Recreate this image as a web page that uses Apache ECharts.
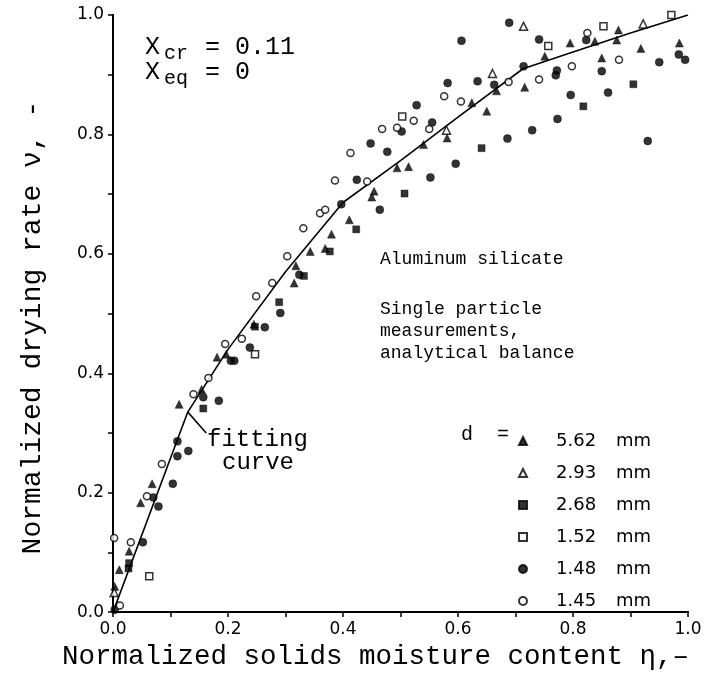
<!DOCTYPE html>
<html>
<head>
<meta charset="utf-8">
<script src="https://cdn.jsdelivr.net/npm/echarts@6/dist/echarts.min.js"></script>
<style>html,body{margin:0;padding:0;background:#fff}#c{width:720px;height:676px}</style>
</head>
<body>
<div id="c"></div>
<script>
// ---- data ----
var seriesNames = ['5.62 mm', '2.93 mm', '2.68 mm', '1.52 mm', '1.48 mm', '1.45 mm'];
var xTickLabels = ['0.0', '0.2', '0.4', '0.6', '0.8', '1.0'];
var yTickLabels = ['0.0', '0.2', '0.4', '0.6', '0.8', '1.0'];

var s562 = [[0.003,0.043],[0.011,0.071],[0.028,0.102],[0.048,0.183],[0.068,0.215],[0.115,0.348],[0.154,0.373],[0.181,0.427],[0.197,0.432],[0.245,0.482],[0.318,0.580],[0.315,0.551],[0.343,0.604],[0.369,0.609],[0.380,0.633],[0.411,0.657],[0.450,0.695],[0.454,0.705],[0.494,0.744],[0.514,0.746],[0.540,0.783],[0.581,0.794],[0.624,0.853],[0.650,0.839],[0.667,0.873],[0.716,0.879],[0.751,0.931],[0.795,0.953],[0.838,0.956],[0.850,0.928],[0.876,0.958],[0.879,0.975],[0.918,0.944],[0.985,0.953]];
var s293 = [[0.002,0.033],[0.580,0.807],[0.660,0.902],[0.714,0.981],[0.922,0.985]];
var s268 = [[0.027,0.073],[0.028,0.082],[0.157,0.341],[0.247,0.478],[0.289,0.519],[0.332,0.563],[0.377,0.604],[0.423,0.641],[0.507,0.701],[0.641,0.777],[0.818,0.847],[0.905,0.884]];
var s152 = [[0.063,0.060],[0.247,0.432],[0.503,0.830],[0.757,0.948],[0.853,0.981],[0.971,1.0]];
var s148 = [[0.003,0.004],[0.052,0.117],[0.070,0.192],[0.079,0.177],[0.104,0.215],[0.112,0.286],[0.112,0.261],[0.131,0.270],[0.157,0.360],[0.184,0.354],[0.205,0.421],[0.211,0.421],[0.238,0.443],[0.264,0.477],[0.291,0.501],[0.324,0.565],[0.397,0.683],[0.424,0.724],[0.448,0.785],[0.464,0.674],[0.477,0.771],[0.502,0.805],[0.528,0.849],[0.552,0.728],[0.555,0.820],[0.582,0.886],[0.596,0.751],[0.606,0.957],[0.634,0.889],[0.663,0.883],[0.686,0.793],[0.689,0.987],[0.714,0.914],[0.729,0.807],[0.741,0.959],[0.770,0.899],[0.772,0.907],[0.773,0.826],[0.796,0.866],[0.823,0.958],[0.850,0.906],[0.861,0.870],[0.930,0.789],[0.950,0.921],[0.984,0.934],[0.995,0.925]];
var s145 = [[0.002,0.124],[0.012,0.011],[0.031,0.117],[0.059,0.194],[0.085,0.248],[0.140,0.365],[0.166,0.392],[0.195,0.449],[0.224,0.458],[0.249,0.529],[0.277,0.551],[0.303,0.596],[0.331,0.643],[0.360,0.668],[0.369,0.674],[0.386,0.723],[0.413,0.769],[0.442,0.721],[0.468,0.809],[0.494,0.811],[0.523,0.823],[0.550,0.809],[0.576,0.864],[0.605,0.855],[0.688,0.888],[0.741,0.892],[0.798,0.914],[0.825,0.970],[0.880,0.925]];

var curveX = [0, 0.13, 0.2, 0.3, 0.4, 0.5, 0.6, 0.713, 0.8, 0.9, 1.0];
var curveY = [0, 0.335, 0.44, 0.57, 0.686, 0.756, 0.829, 0.910, 0.938, 0.970, 1.0];
var pointerX = [0.13, 0.162];
var pointerY = [0.335, 0.30];

// ---- chart ----
var chart = echarts.init(document.getElementById('c'), null, {renderer: 'canvas'});
var MONO = '"Liberation Mono", "DejaVu Sans Mono", monospace';
var SANS = '"DejaVu Sans", "Liberation Sans", sans-serif';

function zip(xs, ys) { return xs.map(function (x, i) { return [x, ys[i]]; }); }
function tickFmt(labels) {
  return function (v) {
    var k = Math.round(v * 10);
    return k % 2 === 0 ? labels[k / 2] : '';
  };
}
var axisLineStyle = {lineStyle: {color: '#000', width: 2}};
var tickLine = {color: '#000', width: 1.5};

function sc(name, data, symbol, filled, size) {
  return {
    name: name, type: 'scatter', data: data, symbol: symbol, symbolSize: size,
    itemStyle: filled ? {color: '#000', borderColor: '#000', borderWidth: 0.5}
                      : {color: '#fff', borderColor: '#000', borderWidth: 1.5},
    z: 5, silent: true
  };
}

var option = {
  backgroundColor: '#fff',
  animation: false,
  grid: {left: 113, right: 32, top: 15, bottom: 54, containLabel: false},
  xAxis: [{
    type: 'value', min: 0, max: 1, interval: 0.1, position: 'bottom',
    axisLine: axisLineStyle,
    axisTick: {show: true, inside: false, length: 5, lineStyle: tickLine},
    axisLabel: {formatter: tickFmt(xTickLabels), color: '#000', fontFamily: SANS, fontSize: 17, margin: 9},
    splitLine: {show: false},
    name: 'Normalized solids moisture content η,–',
    nameLocation: 'middle', nameGap: 23,
    nameTextStyle: {fontFamily: MONO, fontSize: 27.5, color: '#000', padding: [0, 50, 0, 0]}
  }, {
    type: 'value', min: 0, max: 1, interval: 0.1, position: 'top',
    axisLine: axisLineStyle,
    axisTick: {show: true, inside: true, length: 5, lineStyle: tickLine},
    axisLabel: {show: false}, splitLine: {show: false}
  }],
  yAxis: [{
    type: 'value', min: 0, max: 1, interval: 0.1, position: 'left',
    axisLine: axisLineStyle,
    axisTick: {show: true, inside: false, length: 5, lineStyle: tickLine},
    axisLabel: {formatter: tickFmt(yTickLabels), color: '#000', fontFamily: SANS, fontSize: 17, margin: 9},
    splitLine: {show: false},
    name: 'Normalized drying rate ν, -',
    nameLocation: 'middle', nameGap: 66, nameRotate: 90,
    nameTextStyle: {fontFamily: MONO, fontSize: 28, color: '#000', padding: [0, 28, 0, 0]}
  }, {
    type: 'value', min: 0, max: 1, interval: 0.1, position: 'right',
    axisLine: axisLineStyle,
    axisTick: {show: true, inside: true, length: 5, lineStyle: tickLine},
    axisLabel: {show: false}, splitLine: {show: false}
  }],
  legend: {
    orient: 'vertical', left: 513, top: 426,
    itemWidth: 8, itemHeight: 8, itemGap: 12,
    data: seriesNames,
    formatter: function (name) {
      var p = name.split(' ');
      return '{n|' + p[0] + '}{u|' + p[1] + '}';
    },
    textStyle: {
      fontFamily: SANS, fontSize: 18, color: '#000', lineHeight: 20, padding: [0, 0, 0, 24],
      rich: {
        n: {fontFamily: SANS, fontSize: 18, color: '#000', width: 60, lineHeight: 20},
        u: {fontFamily: SANS, fontSize: 18, color: '#000', lineHeight: 20}
      }
    },
    selectedMode: false
  },
  series: [
    {
      name: 'fitting curve', type: 'line', data: zip(curveX, curveY), symbol: 'none',
      lineStyle: {color: '#000', width: 1.6}, z: 3, silent: true
    },
    {
      name: 'pointer', type: 'line', data: zip(pointerX, pointerY), symbol: 'none',
      lineStyle: {color: '#000', width: 1.6}, z: 3, silent: true
    },
    sc(seriesNames[0], s562, 'triangle', true, 8),
    sc(seriesNames[1], s293, 'triangle', false, 8),
    sc(seriesNames[2], s268, 'rect', true, 7),
    sc(seriesNames[3], s152, 'rect', false, 7),
    sc(seriesNames[4], s148, 'circle', true, 8),
    sc(seriesNames[5], s145, 'circle', false, 7)
  ],
  graphic: [
    {type: 'text', left: 145, top: 35, style: {text: 'X', font: '25px ' + MONO, fill: '#000'}},
    {type: 'text', left: 164, top: 44, style: {text: 'cr', font: '20px ' + MONO, fill: '#000'}},
    {type: 'text', left: 205, top: 35, style: {text: '= 0.11', font: '25px ' + MONO, fill: '#000'}},
    {type: 'text', left: 145, top: 60, style: {text: 'X', font: '25px ' + MONO, fill: '#000'}},
    {type: 'text', left: 164, top: 69, style: {text: 'eq', font: '20px ' + MONO, fill: '#000'}},
    {type: 'text', left: 205, top: 60, style: {text: '= 0', font: '25px ' + MONO, fill: '#000'}},

    {type: 'text', left: 380, top: 250, style: {text: 'Aluminum silicate', font: '18px ' + MONO, fill: '#000'}},
    {type: 'text', left: 380, top: 298, style: {text: 'Single particle\nmeasurements,\nanalytical balance', font: '18px ' + MONO, fill: '#000', lineHeight: 22}},

    {type: 'text', left: 207, top: 428, style: {text: 'fitting', font: '24px ' + MONO, fill: '#000'}},
    {type: 'text', left: 222, top: 451, style: {text: 'curve', font: '24px ' + MONO, fill: '#000'}},

    {type: 'text', left: 461, top: 425, style: {text: 'd  =', font: '20px ' + MONO, fill: '#000'}}
  ]
};
chart.setOption(option);
</script>
</body>
</html>
